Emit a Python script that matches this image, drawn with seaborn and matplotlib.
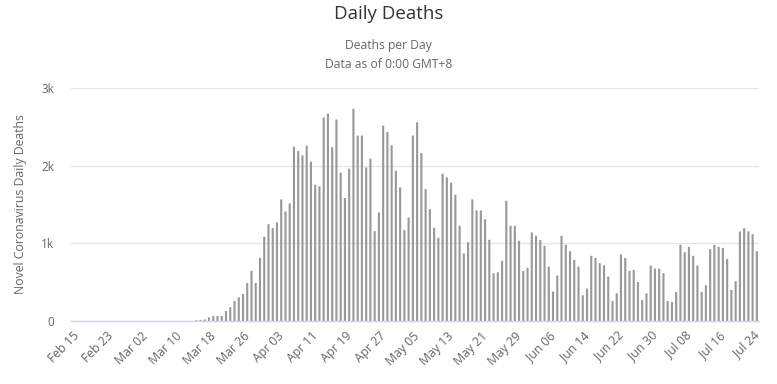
import pandas as pd
import matplotlib.pyplot as plt
import seaborn as sns

# daily deaths, Feb 15 -> Jul 25
start_date = "2020-02-15"
early_zeros = [0] * 29
march_april = [10, 15, 20, 47, 65, 65, 65, 129, 176, 258, 305, 348, 490, 645, 490, 813,
               1085, 1247, 1196, 1269, 1566, 1411, 1514, 2245, 2189, 2133,
               2258, 2052, 1755, 1733, 2619, 2671, 2237, 2594, 1910, 1583, 1961, 2731,
               2387, 2387, 1978, 2090, 1157, 1398, 2516, 2434, 2262, 1935, 1720, 1170,
               1333, 2387]
may_june = [2559, 2163, 1699, 1441, 1200, 1071, 1897, 1849, 1781, 1626, 1226, 869, 1015,
            1566, 1424, 1424, 1312, 1045, 615, 628, 774, 1548, 1226, 1226, 1032, 645,
            684, 1140, 1097, 1041, 968, 701, 378, 585, 1097, 981, 899, 787, 701, 331,
            417, 839, 813, 744, 718, 572, 258, 357, 856, 813, 645, 658]
july = [503, 271, 357, 714, 675, 675, 615, 258, 245, 374, 981, 886, 955, 839, 714, 374,
        460, 925, 981, 955, 942, 800, 400, 512, 1153, 1196, 1153, 1118, 899]

deaths = early_zeros + march_april + may_june + july
dates = pd.date_range(start_date, periods=len(deaths), freq="D")
labels = [d.strftime("%b %d") for d in dates]
df = pd.DataFrame({"date": labels, "deaths": deaths})

sns.set_style("white")
plt.rcParams["font.family"] = ["Open Sans", "DejaVu Sans"]

fig = plt.figure(figsize=(7.77, 3.84), dpi=100)
ax = fig.add_axes([71 / 777, 63 / 384, 688 / 777, 233 / 384])

sns.barplot(data=df, x="date", y="deaths", color="#999999", saturation=1,
            width=0.5, linewidth=0, ax=ax)
# keep the thin bars even instead of snapping to whole pixels
for p in ax.patches:
    p.set_snap(False)

ax.set_xlim(-0.5, len(deaths) - 0.5)
ax.set_ylim(0, 3000)
ax.set_yticks([0, 1000, 2000, 3000])
ax.set_yticklabels(["0", "1k", "2k", "3k"], color="#666666", fontsize=8.5)
ax.yaxis.grid(True, color="#e6e6e6", linewidth=1)
ax.set_axisbelow(True)

tick_pos = list(range(0, len(deaths), 8))
ax.set_xticks(tick_pos)
ax.set_xticklabels([labels[i] for i in tick_pos], rotation=45, ha="right",
                   rotation_mode="anchor", color="#666666", fontsize=8.8)
ax.tick_params(axis="x", length=0, pad=6)
ax.tick_params(axis="y", length=0, pad=12)

for side in ["top", "right", "left"]:
    ax.spines[side].set_visible(False)
ax.spines["bottom"].set_color("#ccd6eb")
ax.spines["bottom"].set_linewidth(1)

ax.set_xlabel("")
ax.set_ylabel("Novel Coronavirus Daily Deaths", color="#666666", fontsize=8.8, labelpad=10)

fig.text(0.5, 1 - 14 / 384, "Daily Deaths", ha="center", va="center",
         fontsize=13.5, color="#333333")
fig.text(0.5, 1 - 45 / 384, "Deaths per Day", ha="center", va="center",
         fontsize=8.7, color="#666666")
fig.text(0.5, 1 - 64 / 384, "Data as of 0:00 GMT+8", ha="center", va="center",
         fontsize=8.7, color="#666666")

plt.savefig("out.png", dpi=100)
plt.close()
